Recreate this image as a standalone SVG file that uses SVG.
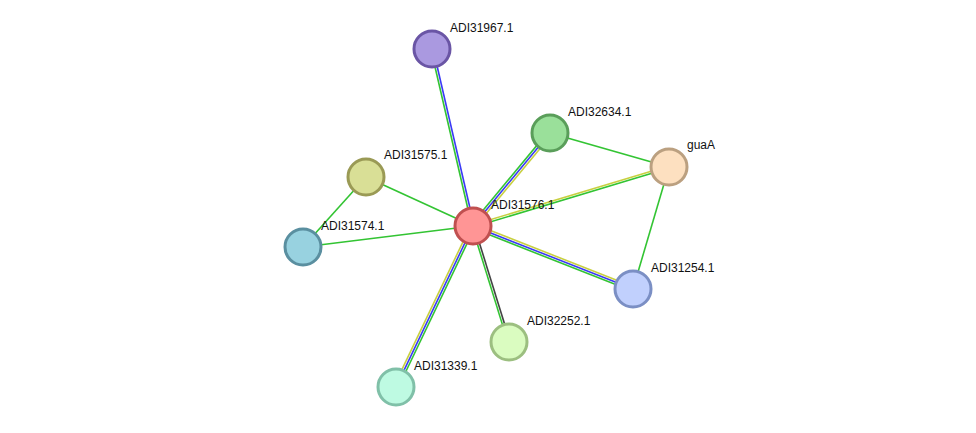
<svg xmlns="http://www.w3.org/2000/svg" width="976" height="433" viewBox="0 0 976 433">
<style>
.g{stroke:#33c433;stroke-width:1.6;fill:none}
.b{stroke:#3a3af5;stroke-width:1.6;fill:none}
.y{stroke:#c8d040;stroke-width:1.6;fill:none}
.k{stroke:#444444;stroke-width:1.6;fill:none}
.n{stroke-width:3}
text{font-family:"Liberation Sans",Arial,sans-serif;font-size:12px;fill:#111}
</style>
<rect width="976" height="433" fill="#ffffff"/>
<g id="connectors">
<g transform="translate(473,226) rotate(-103.04)"><line class="g" x1="0" y1="-1.1" x2="181.7" y2="-1.1"/><line class="b" x1="0" y1="1.1" x2="181.7" y2="1.1"/></g>
<g transform="translate(473,226) rotate(-50.38)"><line class="g" x1="0" y1="-2.2" x2="120.7" y2="-2.2"/><line class="b" x1="0" y1="0" x2="120.7" y2="0"/><line class="y" x1="0" y1="2.2" x2="120.7" y2="2.2"/></g>
<g transform="translate(473,226) rotate(-16.75)"><line class="y" x1="0" y1="-1.1" x2="204.7" y2="-1.1"/><line class="g" x1="0" y1="1.1" x2="204.7" y2="1.1"/></g>
<g transform="translate(473,226) rotate(21.49)"><line class="y" x1="0" y1="-2.2" x2="172" y2="-2.2"/><line class="b" x1="0" y1="0" x2="172" y2="0"/><line class="g" x1="0" y1="2.2" x2="172" y2="2.2"/></g>
<g transform="translate(473,226) rotate(72.76)"><line class="k" x1="0" y1="-1.1" x2="121.5" y2="-1.1"/><line class="g" x1="0" y1="1.1" x2="121.5" y2="1.1"/></g>
<g transform="translate(473,226) rotate(115.56)"><line class="g" x1="0" y1="-2.2" x2="178.5" y2="-2.2"/><line class="b" x1="0" y1="0" x2="178.5" y2="0"/><line class="y" x1="0" y1="2.2" x2="178.5" y2="2.2"/></g>
<line class="g" x1="473" y1="226" x2="366" y2="177"/>
<line class="g" x1="473" y1="226" x2="303" y2="247"/>
<line class="g" x1="366" y1="177" x2="303" y2="247"/>
<line class="g" x1="550" y1="133" x2="669" y2="167"/>
<line class="g" x1="669" y1="167" x2="633" y2="289"/>
</g>
<g id="ADI31967.1"><circle class="n" cx="432" cy="49" r="18" fill="#aa99e0" stroke="#6a55a5"/><text x="450" y="32">ADI31967.1</text></g>
<g id="ADI32634.1"><circle class="n" cx="550" cy="133" r="18" fill="#9ae09a" stroke="#5a9e5a"/><text x="568" y="116">ADI32634.1</text></g>
<g id="guaA"><circle class="n" cx="669" cy="167" r="18" fill="#fde0c0" stroke="#bba080"/><text x="687" y="149">guaA</text></g>
<g id="ADI31575.1"><circle class="n" cx="366" cy="177" r="18" fill="#d9df96" stroke="#9a9a55"/><text x="384" y="159">ADI31575.1</text></g>
<g id="ADI31574.1"><circle class="n" cx="303" cy="247" r="18" fill="#98d2e0" stroke="#5a8fa0"/><text x="321" y="230">ADI31574.1</text></g>
<g id="ADI31254.1"><circle class="n" cx="633" cy="289" r="18" fill="#c1d0fd" stroke="#7b8fc4"/><text x="651" y="272">ADI31254.1</text></g>
<g id="ADI32252.1"><circle class="n" cx="509" cy="342" r="18" fill="#dafcc0" stroke="#9cbf80"/><text x="527" y="325">ADI32252.1</text></g>
<g id="ADI31339.1"><circle class="n" cx="396" cy="387" r="18" fill="#befae2" stroke="#80c0a8"/><text x="414" y="370">ADI31339.1</text></g>
<g id="ADI31576.1"><circle class="n" cx="473" cy="226" r="18" fill="#ff9595" stroke="#c05050"/><text x="491" y="209">ADI31576.1</text></g>
</svg>
